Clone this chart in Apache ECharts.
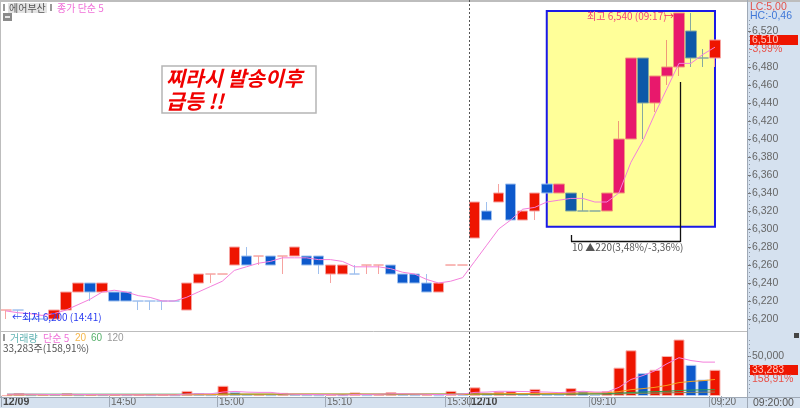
<!DOCTYPE html>
<html>
<head>
<meta charset="utf-8">
<style>
html,body{margin:0;padding:0;background:#fff;}
#chart{width:800px;height:408px;}
</style>
<script src="https://cdn.jsdelivr.net/npm/echarts@6/dist/echarts.min.js"></script>
</head>
<body>
<div id="chart"></div>
<script>
var categories = ['14:41','14:42','14:43','14:44','14:45','14:46','14:47','14:48','14:49','14:50',
	'14:51','14:52','14:53','14:54','14:55','14:56','14:57','14:58','15:00','15:01',
	'15:02','15:03','15:04','15:05','15:06','15:07','15:08','15:10','15:11','15:12',
	'15:13','15:14','15:15','15:16','15:17','15:18','15:19','15:30','15:31','09:01',
	'09:02','09:03','09:04','09:05','09:06','09:07','09:08','09:09','09:09:30','09:10',
	'09:11','09:12','09:13','09:14','09:15','09:16','09:17','09:18','09:19','09:20'];
// labels on the time axis, keyed by the bar they start at
var xTickBars = ['14:41','14:50','15:00','15:10','15:30','09:01','09:10','09:20'];
var xTickNames = ['12/09','14:50','15:00','15:10','15:30','12/10','09:10','09:20'];

var opens  = [6210,6210,6200,6200,6200,6210,6230,6240,6230,6230,6230,6220,6220,6220,6220,6210,6240,6250,6250,6260,
	6270,6270,6270,6270,6270,6270,6270,6250,6250,6250,6260,6260,6260,6250,6250,6240,6230,6260,6260,6290,
	6320,6330,6350,6310,6320,6350,6340,6340,6320,6320,6320,6340,6400,6490,6440,6470,6480,6520,6490,6490];
var closes = [6210,6210,6200,6200,6210,6230,6240,6230,6240,6220,6220,6220,6220,6220,6220,6240,6250,6250,6250,6280,
	6260,6270,6260,6270,6280,6260,6260,6260,6260,6250,6260,6260,6250,6240,6240,6230,6240,6260,6260,6330,
	6310,6340,6310,6320,6340,6340,6350,6320,6320,6320,6340,6400,6490,6440,6470,6480,6540,6490,6490,6510];
var lows   = [6200,6200,6200,6200,6200,6210,6230,6220,6230,6220,6220,6210,6210,6210,6220,6210,6240,6240,6250,6260,
	6260,6260,6260,6250,6270,6260,6250,6240,6250,6250,6250,6250,6250,6240,6240,6230,6230,6260,6260,6290,
	6310,6330,6310,6310,6310,6340,6340,6320,6320,6320,6320,6340,6400,6400,6430,6460,6470,6480,6480,6480];
var highs  = [6210,6210,6200,6200,6210,6230,6240,6240,6240,6230,6230,6220,6220,6220,6220,6240,6250,6250,6250,6280,
	6280,6270,6270,6270,6280,6270,6270,6260,6260,6260,6260,6260,6260,6250,6250,6250,6240,6260,6260,6330,
	6330,6350,6350,6320,6340,6350,6350,6340,6340,6320,6340,6420,6490,6490,6470,6510,6540,6540,6500,6510];
var priceMa5 = [6209,6207,6206,6204,6206,6210,6216,6222,6230,6232,6230,6226,6224,6220,6220,6224,6230,6236,6242,6254,
	6258,6262,6264,6268,6268,6268,6266,6266,6264,6258,6258,6258,6256,6252,6250,6244,6240,6242,6246,6264,
	6282,6300,6310,6322,6324,6330,6332,6334,6334,6330,6330,6340,6374,6398,6428,6456,6484,6484,6494,6502];
var priceTicks = [6200,6220,6240,6260,6280,6300,6320,6340,6360,6380,6400,6420,6440,6460,6480,6520];

var volumes = [1000,3700,1000,1500,1200,3500,1000,1500,1000,1500,1000,2000,1000,1500,800,6500,3500,1000,13000,5000,
	2000,2500,1000,4000,1500,1000,800,1500,1000,4500,1000,2000,5000,1500,1000,1200,800,6500,3000,11000,
	4000,5500,6000,2000,9000,2000,1800,10000,6000,1500,6000,36000,58000,29000,33300,50800,71700,39600,20800,33283];
var volMa5 = [2200,2300,2200,2000,1800,2100,2000,1800,1700,1700,1500,1500,1300,1500,1300,2500,2800,2800,5000,5800,
	4900,4600,4600,2800,2200,2000,1800,1800,1100,2000,2000,2200,2800,2800,2500,2100,1800,2100,2500,4600,
	5000,6000,5900,5700,5300,5000,4300,5000,6000,5000,5000,11000,21000,26000,32000,41000,48600,45000,43000,43000];
var volMa20 = [1700,1700,1700,1700,1700,1700,1700,1700,1700,1700,1700,1700,1700,1700,1700,1800,1800,1800,2300,2400,
	2400,2400,2400,2500,2500,2500,2400,2400,2400,2500,2400,2400,2500,2500,2400,2400,2300,2500,2100,2600,
	2700,2900,3100,3000,3300,3300,3300,3700,3900,4000,4200,5600,8000,9400,11000,13500,17000,18500,19500,21000];
var volMa60 = [2300,2300,2300,2300,2300,2300,2300,2300,2300,2300,2300,2300,2300,2300,2300,2300,2300,2300,2400,2400,
	2400,2400,2400,2400,2400,2400,2400,2400,2400,2400,2400,2400,2500,2500,2500,2500,2500,2500,2500,2600,
	2600,2600,2700,2700,2700,2800,2800,2800,2900,3000,3000,3600,4500,5000,5500,6000,7000,7500,7800,8000];
var volMa120 = [1500,1500,1500,1500,1500,1500,1500,1500,1500,1500,1600,1600,1600,1600,1600,1600,1600,1600,1700,1700,
	1700,1700,1700,1700,1700,1700,1700,1800,1800,1800,1800,1800,1800,1800,1800,1800,1900,1900,1900,2000,
	2000,2000,2100,2100,2100,2200,2200,2200,2300,2300,2300,2700,3100,3400,3700,4000,4300,4600,4800,5000];
var volumeTicks = [50000];

// bars drawn light-blue when open equals close
var flatDown = [1,2,3,11,12,13,14,29,48,49,58];
var boxFirst = 46, boxLast = 58;

function candleItem(i){
	var up = closes[i] > opens[i] || (closes[i] === opens[i] && flatDown.indexOf(i) < 0);
	var inBox = i >= boxFirst && i <= boxLast;
	var fill, edge;
	if(inBox){
		fill = up ? '#e8186c' : '#0e58a8';
		edge = up ? '#f09a78' : '#86a9a0';
	}else{
		fill = up ? '#ee1500' : '#0d59cc';
		edge = up ? '#f6a3a0' : '#9fc0ee';
	}
	return {
		value: [opens[i], closes[i], lows[i], highs[i]],
		itemStyle: {color: fill, color0: fill, borderColor: edge, borderColor0: edge, borderColorDoji: edge}
	};
}
var candleData = closes.map(function(c, i){ return candleItem(i); });
var volumeData = volumes.map(function(v, i){
	var up = i === 0 || v >= volumes[i-1];
	return {
		value: v,
		itemStyle: {color: up ? '#ee1500' : '#0d59cc', borderColor: up ? '#f8b4b0' : '#b4cdf2', borderWidth: 1}
	};
});

function fmt(v){ return String(v).replace(/\B(?=(\d{3})+$)/g, ','); }
function tickAt(i){ return xTickBars.indexOf(categories[i]) >= 0; }

var textFont = '"Noto Sans CJK KR","Liberation Sans",sans-serif';
var numFont = '"Liberation Sans",sans-serif';
var panelColor = '#d5e1ef';
var lineGray = '#bdbdbd';

function label(x, y, text, color, size, extra){
	var style = {x: x, y: y, text: text, fill: color, fontSize: size || 11, fontFamily: textFont, textVerticalAlign: 'middle'};
	if(extra){ for(var k in extra){ style[k] = extra[k]; } }
	return {type: 'text', z: 60, style: style};
}
function box(x, y, w, h, color, z){
	return {type: 'rect', z: z || 1, shape: {x: x, y: y, width: w, height: h}, style: {fill: color}};
}
function line(x1, y1, x2, y2, color, w, dash){
	return {type: 'line', z: 50, shape: {x1: x1, y1: y1, x2: x2, y2: y2}, style: {stroke: color, lineWidth: w || 1, lineDash: dash || null}};
}

var chart = echarts.init(document.getElementById('chart'));
chart.setOption({
	animation: false,
	backgroundColor: '#fff',
	grid: [
		{left: 0, top: 2, width: 721, height: 329},
		{left: 0, top: 331, width: 721, height: 66}
	],
	xAxis: [
		{
			type: 'category', gridIndex: 0, data: categories, boundaryGap: true,
			axisLine: {show: false}, axisTick: {show: false}, axisLabel: {show: false}, splitLine: {show: false}
		},
		{
			type: 'category', gridIndex: 1, data: categories, boundaryGap: true, z: 20,
			axisLine: {show: false},
			axisTick: {show: true, length: 11, interval: function(i){ return tickAt(i); }, lineStyle: {color: '#9fa9b6'}},
			axisLabel: {
				show: true, margin: 1, fontSize: 10, align: 'left', padding: [0,0,0,-4],
				fontFamily: numFont, color: '#666',
				interval: function(i){ return tickAt(i); },
				formatter: function(v){
					var n = xTickNames[xTickBars.indexOf(v)];
					return n.indexOf('/') > 0 ? '{d|' + n + '}' : n;
				},
				rich: {d: {fontWeight: 'bold', fontSize: 10.5, fontFamily: numFont, color: '#444'}}
			},
			splitLine: {show: false}
		}
	],
	yAxis: [
		{
			type: 'value', gridIndex: 0, position: 'right', offset: 26, min: 6186.7, max: 6552.2, scale: true, z: 20,
			axisLine: {show: false},
			axisTick: {show: true, length: 4, customValues: priceTicks, lineStyle: {color: '#777'}},
			axisLabel: {
				show: true, margin: 5, fontSize: 10.5, fontFamily: numFont, color: '#666',
				customValues: priceTicks, formatter: function(v){ return fmt(v); }
			},
			splitLine: {show: false}
		},
		{
			type: 'value', gridIndex: 1, position: 'right', offset: 26, min: 0, max: 82500, z: 20,
			axisLine: {show: false},
			axisTick: {show: true, length: 4, customValues: volumeTicks, lineStyle: {color: '#777'}},
			axisLabel: {
				show: true, margin: 5, fontSize: 10.5, fontFamily: numFont, color: '#666',
				customValues: volumeTicks, formatter: function(v){ return fmt(v); }
			},
			splitLine: {show: false}
		}
	],
	series: [
		{
			name: '가격', type: 'candlestick', xAxisIndex: 0, yAxisIndex: 0, data: candleData,
			barWidth: 11, z: 5,
			markArea: {
				silent: true, z: 1,
				itemStyle: {color: '#ffff99', borderColor: '#1a1ae6', borderWidth: 2},
				data: [[{coord: ['09:07', 6542.2]}, {coord: ['09:20', 6302.5]}]]
			}
		},
		{
			name: '종가 단순 5', type: 'line', xAxisIndex: 0, yAxisIndex: 0, data: priceMa5,
			showSymbol: false, smooth: false, z: 6, lineStyle: {color: '#f47fdc', width: 1}
		},
		{
			name: '거래량', type: 'bar', xAxisIndex: 1, yAxisIndex: 1, data: volumeData,
			barWidth: 11, z: 3
		},
		{name: '단순 120', type: 'line', xAxisIndex: 1, yAxisIndex: 1, data: volMa120, showSymbol: false, z: 4, lineStyle: {color: '#8a8a5a', width: 1}},
		{name: '단순 60', type: 'line', xAxisIndex: 1, yAxisIndex: 1, data: volMa60, showSymbol: false, z: 5, lineStyle: {color: '#2f9e4f', width: 1}},
		{name: '단순 20', type: 'line', xAxisIndex: 1, yAxisIndex: 1, data: volMa20, showSymbol: false, z: 6, lineStyle: {color: '#f2a01e', width: 1}},
		{name: '단순 5', type: 'line', xAxisIndex: 1, yAxisIndex: 1, data: volMa5, showSymbol: false, z: 7, lineStyle: {color: '#f47fdc', width: 1}}
	],
	graphic: {
		elements: [
			// 우측, 하단 패널
			box(747, 0, 53, 408, panelColor, 0),
			box(0, 397, 747, 11, panelColor, 0),
			line(0, 1, 800, 1, lineGray, 2),
			line(0.5, 0, 0.5, 397, lineGray, 1),
			line(0, 331.5, 747, 331.5, lineGray, 1),
			line(747.5, 0, 747.5, 408, '#9fa9b6', 1),
			line(0, 397.5, 800, 397.5, '#9fa9b6', 1),
			line(749.5, 20, 749.5, 330, '#8c98a8', 1, [1, 3]),
			line(749.5, 340, 749.5, 396, '#8c98a8', 1, [1, 3]),
			line(469.5, 0, 469.5, 397, '#555', 1, [2, 2]),

			// 상단 범례
			box(3, 4, 2, 7, '#999', 60),
			box(8, 3, 39, 10, '#e4e4e4', 59),
			label(9, 8, '에어부산', '#555', 10),
			box(50, 4, 2, 7, '#999', 60),
			label(57, 8, '종가 단순 5', '#f070d8', 10),
			box(3, 13, 9, 8, '#8a8a8a', 60),
			box(5, 16, 5, 2, '#e6e6e6', 61),

			// 메모 박스
			{type: 'rect', z: 58, shape: {x: 162, y: 66, width: 154, height: 47},
				style: {fill: '#fff', stroke: '#b5b5b5', lineWidth: 1.5}},
			label(166, 78, '찌라시 발송이후', '#f00000', 20.5, {fontWeight: 'bold', fontStyle: 'italic'}),
			label(166, 101, '급등 !!', '#f00000', 20.5, {fontWeight: 'bold', fontStyle: 'italic'}),

			// 최고, 최저 표시
			label(587, 16, '최고 6,540 (09:17)', '#f4447a', 10),
			label(664, 16, '→', '#f0305a', 10),
			label(12, 317, '←최저 6,200 (14:41)', '#2a3cf0', 10),

			// 구간 측정선
			line(571.5, 235, 571.5, 241.5, '#111', 1.3),
			line(571, 241.5, 680.5, 241.5, '#111', 1.3),
			line(680.5, 82, 680.5, 242, '#111', 1.3),
			label(572, 247, '10 ▲220(3,48%/-3,36%)', '#555', 10),

			// 우측 현재가
			label(750, 7, 'LC:5,00', '#e4524a', 10.5, {fontFamily: numFont}),
			label(750, 16, 'HC:-0,46', '#3f78d8', 10.5, {fontFamily: numFont}),
			box(750, 35, 48, 10, '#ee1500', 55),
			label(752, 40, '6,510', '#ffc8c0', 10.5, {fontFamily: numFont}),
			label(749, 49, '-3,99%', '#e8524a', 10.5, {fontFamily: numFont}),

			// 거래량 범례
			box(3, 334, 2, 7, '#999', 60),
			label(10, 338, '거래량', '#62b4b4', 10),
			label(43, 338, '단순 5', '#f070d8', 10),
			label(75, 338, '20', '#f5b64a', 10, {fontFamily: numFont}),
			label(91, 338, '60', '#55b06a', 10, {fontFamily: numFont}),
			label(107, 338, '120', '#9a9a9a', 10, {fontFamily: numFont}),
			label(3, 348, '33,283주(158,91%)', '#555', 10),

			// 우측 거래량
			box(750, 365, 48, 10, '#ee1500', 55),
			label(752, 370, '33,283', '#ffc8c0', 10.5, {fontFamily: numFont}),
			label(752, 379, '158,91%', '#e8524a', 10.5, {fontFamily: numFont}),
			box(794, 333, 5, 5, '#444', 60),
			label(753, 403, '09:20:00', '#555', 10.5, {fontFamily: numFont})
		]
	}
});
</script>
</body>
</html>
